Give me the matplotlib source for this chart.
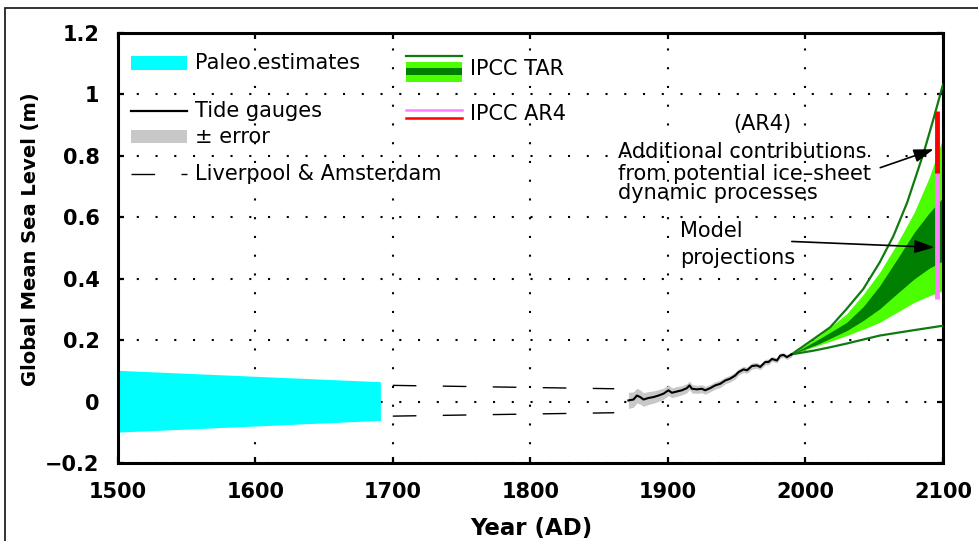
import numpy as np
import matplotlib
matplotlib.use("Agg")
import matplotlib.pyplot as plt
from matplotlib.patches import Rectangle

# --- data ---
paleo_years = [1500, 1691]
paleo_upper = [0.103, 0.066]
paleo_lower = [-0.098, -0.060]

liv_years = [1700, 1861]
liv_upper = [0.054, 0.043]
liv_lower = [-0.046, -0.035]

tide_years = [1871.3, 1875.0, 1877.5, 1879.9, 1882.3, 1885.9, 1889.5, 1893.2, 1896.8,
              1900.4, 1902.9, 1906.5, 1910.2, 1913.8, 1915.7, 1917.5, 1921.1, 1924.7,
              1927.1, 1930.8, 1934.4, 1938.0, 1941.7, 1945.3, 1948.9, 1951.3, 1955.0,
              1957.5, 1961.1, 1964.7, 1967.1, 1970.8, 1973.2, 1975.6, 1979.3, 1981.7,
              1984.1, 1986.5, 1990.0]
tide_level = [0.005, 0.008, 0.021, 0.016, 0.008, 0.013, 0.016, 0.021, 0.027,
              0.038, 0.030, 0.034, 0.038, 0.045, 0.054, 0.043, 0.041, 0.043,
              0.038, 0.045, 0.054, 0.059, 0.070, 0.076, 0.086, 0.097, 0.106,
              0.103, 0.117, 0.119, 0.114, 0.130, 0.130, 0.140, 0.135, 0.151,
              0.153, 0.146, 0.155]
tide_err = [0.026, 0.025, 0.024, 0.023, 0.022, 0.021, 0.020, 0.019, 0.018,
            0.017, 0.016, 0.016, 0.015, 0.015, 0.014, 0.014, 0.013, 0.013,
            0.013, 0.012, 0.012, 0.012, 0.011, 0.011, 0.011, 0.010, 0.010,
            0.010, 0.010, 0.009, 0.009, 0.009, 0.009, 0.008, 0.008, 0.008,
            0.008, 0.008, 0.008]

# IPCC TAR projections
tar_up_years = [1990, 2006, 2018, 2030, 2042, 2054, 2064, 2074, 2086, 2093, 2100]
tar_up = [0.155, 0.205, 0.243, 0.303, 0.367, 0.454, 0.540, 0.649, 0.811, 0.919, 1.032]
tar_lo_years = [1990, 2006, 2018, 2030, 2054, 2078, 2100]
tar_lo = [0.155, 0.167, 0.178, 0.190, 0.216, 0.233, 0.248]

band_years = [1990, 2010, 2030, 2042, 2054, 2066, 2079, 2090, 2100]
light_top = [0.155, 0.215, 0.287, 0.350, 0.422, 0.510, 0.616, 0.730, 0.860]
dark_top = [0.155, 0.205, 0.259, 0.310, 0.378, 0.460, 0.551, 0.615, 0.665]
dark_bot = [0.155, 0.190, 0.232, 0.265, 0.303, 0.350, 0.400, 0.435, 0.459]
light_bot = [0.155, 0.185, 0.216, 0.237, 0.259, 0.290, 0.324, 0.345, 0.362]

# IPCC AR4 ranges (bar near 2100)
ar4_year = 2096
ar4_model = [0.335, 0.744]
ar4_ice = [0.744, 0.946]

light_green = "#4cff00"
dark_green = "#007f00"
line_green = "#0f7a0f"
cyan = "#00ffff"
grey = "#c8c8c8"
pink = "#ff80ff"

fig = plt.figure(figsize=(9.79, 5.41), dpi=100)
ax = fig.add_axes([0.1202, 0.1433, 0.8430, 0.7957])

ax.fill_between(paleo_years, paleo_lower, paleo_upper, color=cyan, lw=0, zorder=2)

dash = (0, (17, 19))
ax.plot(liv_years, liv_upper, color="black", lw=1.0, linestyle=dash, zorder=3)
ax.plot(liv_years, liv_lower, color="black", lw=1.0, linestyle=dash, zorder=3)

tl = np.array(tide_level)
te = np.array(tide_err)
ax.fill_between(tide_years, tl - te, tl + te, color=grey, lw=0, zorder=2)
ax.plot(tide_years, tide_level, color="black", lw=1.5, zorder=4)

ax.fill_between(band_years, light_bot, light_top, color=light_green, lw=0, zorder=2)
ax.fill_between(band_years, dark_bot, dark_top, color=dark_green, lw=0, zorder=2)
ax.plot(tar_up_years, tar_up, color=line_green, lw=1.6, zorder=3)
ax.plot(tar_lo_years, tar_lo, color=line_green, lw=1.6, zorder=3)

ax.plot([ar4_year, ar4_year], ar4_model, color=pink, lw=3.5, solid_capstyle="butt", zorder=5)
ax.plot([ar4_year, ar4_year], ar4_ice, color="red", lw=3.5, solid_capstyle="butt", zorder=5)

# axes styling
ax.set_xlim(1500, 2100)
ax.set_ylim(-0.2, 1.2)
ax.set_xticks(range(1500, 2101, 100))
ax.set_yticks([-0.2, 0, 0.2, 0.4, 0.6, 0.8, 1.0, 1.2])
ax.set_yticklabels(["\u22120.2", "0", "0.2", "0.4", "0.6", "0.8", "1", "1.2"])
ax.set_axisbelow(True)
ax.grid(True, color="black", lw=1.5, linestyle=(0, (1, 8)))
ax.tick_params(direction="in", length=4, width=1.6, top=True, right=True,
               labelsize=15, pad=13)
for lab in ax.get_xticklabels() + ax.get_yticklabels():
    lab.set_fontweight("bold")
for sp in ax.spines.values():
    sp.set_linewidth(2.2)

ax.set_xlabel("Year (AD)", fontsize=16.5, fontweight="bold")
ax.xaxis.set_label_coords(0.501, -0.125)
ax.set_ylabel("Global Mean Sea Level (m)", fontsize=14, fontweight="bold")
ax.yaxis.set_label_coords(-0.094, 0.52)

# custom legend
fs = 15
ax.add_patch(Rectangle((1509.5, 1.081), 41, 0.045, color=cyan, lw=0, zorder=6))
ax.text(1556, 1.103, "Paleo estimates", fontsize=fs, va="center", zorder=6)
ax.plot([1509.5, 1550.6], [0.946, 0.946], color="black", lw=1.6, zorder=6)
ax.text(1556, 0.946, "Tide gauges", fontsize=fs, va="center", zorder=6)
ax.add_patch(Rectangle((1509.5, 0.841), 41, 0.045, color=grey, lw=0, zorder=6))
ax.text(1556, 0.863, "\u00b1 error", fontsize=fs, va="center", zorder=6)
ax.plot([1509.5, 1550.6], [0.743, 0.743], color="black", lw=1.0, linestyle=dash, zorder=6)
ax.text(1556, 0.743, "Liverpool & Amsterdam", fontsize=fs, va="center", zorder=6)

ax.plot([1709.7, 1750.2], [1.124, 1.124], color=line_green, lw=1.6, zorder=6)
ax.add_patch(Rectangle((1709.7, 1.041), 40.5, 0.065, color=light_green, lw=0, zorder=6))
ax.add_patch(Rectangle((1709.7, 1.062), 40.5, 0.025, color=dark_green, lw=0, zorder=6))
ax.text(1756, 1.083, "IPCC TAR", fontsize=fs, va="center", zorder=6)
ax.plot([1709.7, 1750.2], [0.951, 0.951], color=pink, lw=1.8, zorder=6)
ax.plot([1709.7, 1750.2], [0.924, 0.924], color="red", lw=1.8, zorder=6)
ax.text(1756, 0.935, "IPCC AR4", fontsize=fs, va="center", zorder=6)

# annotations
ax.text(1968.6, 0.903, "(AR4)", fontsize=fs, ha="center", va="center", zorder=6)
ax.text(1863.6, 0.813, "Additional contributions", fontsize=fs, va="center", zorder=6)
ax.text(1863.6, 0.743, "from potential ice\u2013sheet", fontsize=fs, va="center", zorder=6)
ax.text(1863.6, 0.681, "dynamic processes", fontsize=fs, va="center", zorder=6)
ax.text(1908.9, 0.555, "Model", fontsize=fs, va="center", zorder=6)
ax.text(1908.9, 0.468, "projections", fontsize=fs, va="center", zorder=6)

arrow = dict(arrowstyle="-|>,head_length=0.6,head_width=0.2", color="black",
             lw=1.2, mutation_scale=20, shrinkA=0, shrinkB=0)
ax.annotate("", xy=(2093.2, 0.822), xytext=(2054.4, 0.762), arrowprops=arrow, zorder=7)
ax.annotate("", xy=(2093.7, 0.503), xytext=(1990.1, 0.522), arrowprops=arrow, zorder=7)

# outer frame of the picture
fig.add_artist(Rectangle((0.0051, -0.05), 1.1, 1.035, transform=fig.transFigure,
                         fill=False, lw=1.3, edgecolor="#222222", clip_on=False))

fig.savefig("out.png", dpi=100)
